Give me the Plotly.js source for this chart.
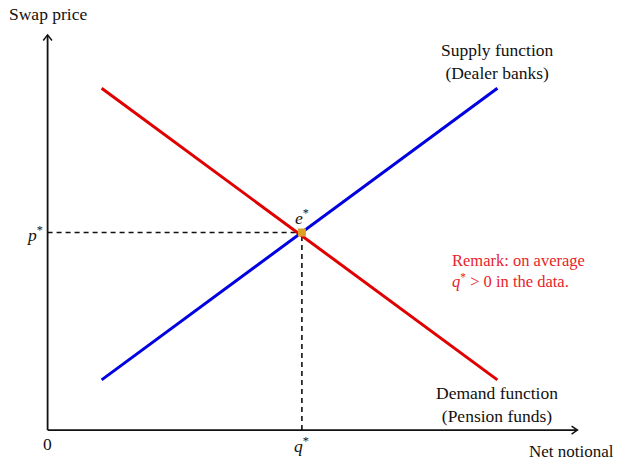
<!DOCTYPE html>
<html>
<head>
<meta charset="utf-8">
<script src="https://cdn.plot.ly/plotly-3.0.1.min.js"></script>
<style>html,body{margin:0;padding:0;background:#fff}#chart{width:618px;height:460px}</style>
</head>
<body>
<div id="chart"></div>
<script>
// Data (arbitrary units)
const supplyX = [1.02, 8.49];
const supplyY = [1.27, 8.65];
const demandX = [1.02, 8.49];
const demandY = [8.65, 1.27];
const qStar = 4.8;
const pStar = 5.0;
const xMax = 10;
const yMax = 10;

const FONT = "Liberation Serif, DejaVu Serif, serif";
const BLACK = "#111";

const traces = [
  {x: [0, qStar], y: [pStar, pStar], mode: "lines", line: {color: BLACK, width: 1.6, dash: "5px,4px"}, hoverinfo: "skip"},
  {x: [qStar, qStar], y: [0, pStar], mode: "lines", line: {color: BLACK, width: 1.6, dash: "5px,4px"}, hoverinfo: "skip"},
  {x: demandX, y: demandY, mode: "lines", line: {color: "#e00000", width: 3}},
  {x: supplyX, y: supplyY, mode: "lines", line: {color: "#0000e0", width: 3}},
  {x: [qStar], y: [pStar], mode: "markers", marker: {color: "#dba127", size: 8, symbol: "square"}}
];

const ax = 0.11, ay = 0.1; // arrowhead size in data units
const shapes = [
  {type: "line", xref: "x", yref: "y", x0: 0, y0: 0, x1: xMax, y1: 0, line: {color: BLACK, width: 1.8}},
  {type: "line", xref: "x", yref: "y", x0: 0, y0: 0, x1: 0, y1: yMax, line: {color: BLACK, width: 1.8}},
  {type: "path", xref: "x", yref: "y", path: `M ${xMax-ax} ${-ay} L ${xMax} 0 L ${xMax-ax} ${ay}`, line: {color: BLACK, width: 1.5}},
  {type: "path", xref: "x", yref: "y", path: `M ${-ax*0.75} ${yMax-ay*1.4} L 0 ${yMax} L ${ax*0.75} ${yMax-ay*1.4}`, line: {color: BLACK, width: 1.5}}
];

const tf = {family: FONT, size: 17.5, color: BLACK};
const annotations = [
  {xref: "x", yref: "y", x: 0, y: yMax, xanchor: "center", yshift: 21, text: "Swap price", showarrow: false, font: tf},
  {xref: "x", yref: "y", x: 8.49, y: 8.65, xanchor: "center", yshift: 3, yanchor: "bottom", text: "Supply function<br>(Dealer banks)", showarrow: false, font: tf},
  {xref: "x", yref: "y", x: 8.49, y: 1.27, xanchor: "center", yshift: -25, text: "Demand function<br>(Pension funds)", showarrow: false, font: tf},
  {xref: "paper", yref: "y", x: 1, y: 0, xanchor: "right", xshift: 27, yshift: -21, height: 18, borderpad: 0, text: "Net notional", showarrow: false, font: {family: FONT, size: 17, color: BLACK}},
  {xref: "x", yref: "y", x: 0, y: 0, xanchor: "center", yshift: -14, text: "0", showarrow: false, font: tf},
  {xref: "x", yref: "y", x: qStar, y: 0, xanchor: "center", yshift: -15, text: "<i>q</i><sup>*</sup>", showarrow: false, font: tf},
  {xref: "x", yref: "y", x: 0, y: pStar, xanchor: "center", xshift: -13, yshift: -1, text: "<i>p</i><sup>*</sup>", showarrow: false, font: tf},
  {xref: "x", yref: "y", x: qStar, y: pStar, xanchor: "center", yshift: 16, text: "<i>e</i><sup>*</sup>", showarrow: false, font: tf},
  {xref: "x", yref: "y", x: 7.6, y: 4.1, xanchor: "left", align: "left", yshift: -3, text: "Remark: on average<br><i>q</i><sup>*</sup> > 0 in the data.", showarrow: false, font: {family: FONT, size: 16.5, color: "#e8232a"}}
];

const pad = 0.2;
const layout = {
  width: 618, height: 460,
  margin: {l: 37.4, r: 30.4, t: 27.1, b: 22.1},
  paper_bgcolor: "#fff", plot_bgcolor: "#fff",
  showlegend: false,
  xaxis: {range: [-pad, xMax + pad], visible: false, fixedrange: true},
  yaxis: {range: [-pad, yMax + pad], visible: false, fixedrange: true},
  shapes: shapes,
  annotations: annotations
};

Plotly.newPlot("chart", traces, layout, {displayModeBar: false, staticPlot: true});
</script>
</body>
</html>
